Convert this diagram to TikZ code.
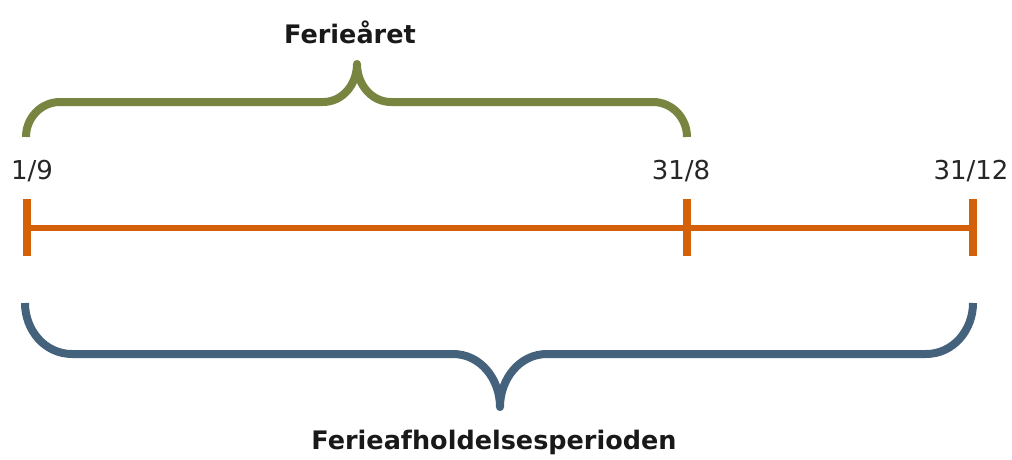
\documentclass[tikz,border=0pt]{standalone}
\usepackage{xcolor}
\usepackage{tikz}
\usepackage{fontspec}
\setmainfont{DejaVu Sans}
\definecolor{lineorange}{HTML}{D4600A}
\definecolor{bracegreen}{HTML}{778540}
\definecolor{braceblue}{HTML}{45627D}

\begin{document}
\begin{tikzpicture}[x=1pt, y=-1pt, line cap=butt, line join=round,
    datelbl/.style = {font=\fontsize{26}{30}\selectfont, text=black!85, inner sep=0pt},
    headlbl/.style = {font=\fontsize{25.5}{30}\selectfont\bfseries, text=black!90, inner sep=0pt},
    tickline/.style = {lineorange, line width=7.5pt},
    brace/.style = {line width=8pt}]
    \useasboundingbox (0,0) rectangle (1012,460);
    % points on the time line
    \coordinate (start) at (27,228);
    \coordinate (mid) at (687,228);
    \coordinate (end) at (973,228);
    % dates
    \node[datelbl] (d1) at (32,171) {1/9};
    \node[datelbl] (d2) at (681,171) {31/8};
    \node[datelbl] (d3) at (971,171) {31/12};
    % time line with ticks
    \draw[lineorange, line width=6.5pt] (start) -- (end);
    \foreach \p in {start, mid, end}
        \draw[tickline] ([yshift=-28pt]\p) -- ([yshift=29pt]\p);
    % upper brace
    \draw[brace, bracegreen] (26,137) to[out=90, in=180] (60,102) -- (323,102)
        to[out=0, in=-90] (357,64) to[out=-90, in=180] (391,102) -- (653,102)
        to[out=0, in=90] (687,137);
    \node[headlbl] (ferie) at (350,32) {Ferieåret};
    % lower brace
    \draw[brace, braceblue] (25,303) to[out=-90, in=180] (72,354) -- (453,354)
        to[out=0, in=90] (500,407) to[out=90, in=180] (547,354) -- (926,354)
        to[out=0, in=-90] (973,303);
    \node[headlbl] (afhold) at (494,442) {Ferieafholdelsesperioden};
\end{tikzpicture}
\end{document}
